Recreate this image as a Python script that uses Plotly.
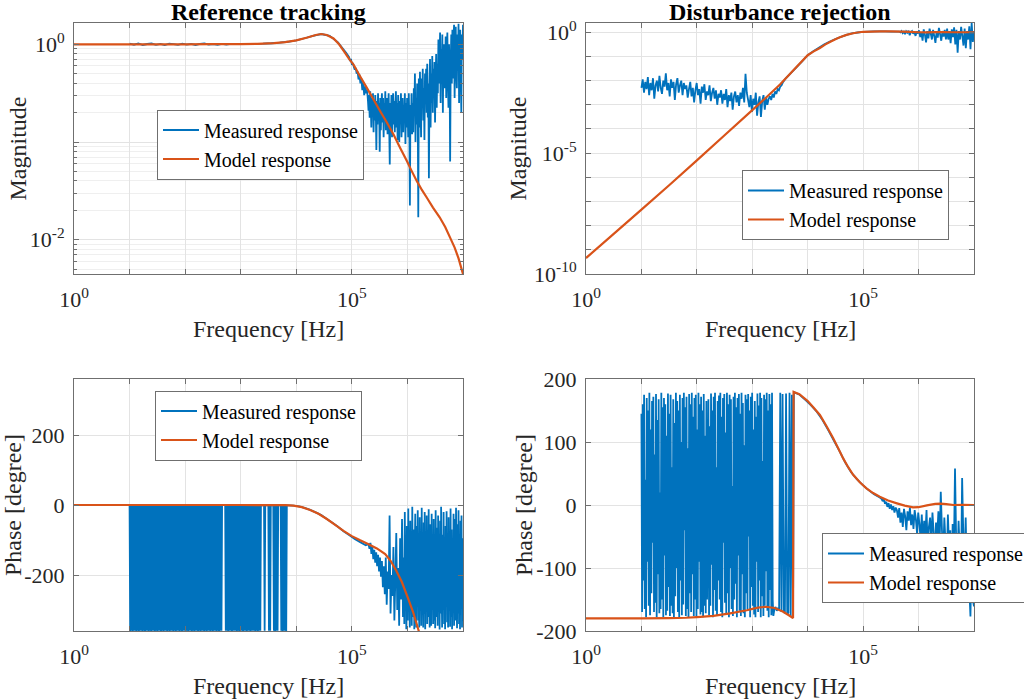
import numpy as np
import plotly.graph_objects as go

# ---------------- data ----------------
# log10 of frequency [Hz]; log10 of magnitude; phase in degrees

# Reference tracking - model
tl_model_logf = [0.0, 1.0, 2.0, 2.5, 3.0, 3.3, 3.6, 3.8, 4.0, 4.2, 4.35, 4.45, 4.55, 4.67, 4.77,
                 4.85, 4.95, 5.03, 5.15, 5.27, 5.4, 5.51, 5.63, 5.75, 5.87, 5.99, 6.08, 6.17, 6.26,
                 6.35, 6.46, 6.58, 6.68, 6.77, 6.85, 6.92, 7.0]
tl_model_logmag = [0.0, 0.0, 0.0, 0.001, 0.002, 0.005, 0.012, 0.022, 0.04, 0.07, 0.095, 0.105, 0.095,
                   0.06, 0.0, -0.065, -0.15, -0.208, -0.33, -0.446, -0.575, -0.685, -0.8, -0.923,
                   -1.06, -1.195, -1.3, -1.4, -1.49, -1.57, -1.67, -1.77, -1.87, -1.98, -2.08, -2.19, -2.35]

# Reference tracking - measured magnitude (frequency stretches)
tl_meas_logf_spans = [(1.0, 2.9), (2.95, 4.9), (4.95, 5.29), (5.3, 7.0)]
tl_meas_logmag_1 = [0.006, -0.004, 0.009, -0.007, 0.003, 0.008, -0.005, 0.004, -0.008, 0.006,
                    0.002, -0.006, 0.007, -0.003, 0.005, -0.007, 0.004, 0.008, -0.004, 0.003,
                    -0.006, 0.005, -0.002, 0.004, 0.001]
tl_meas_logmag_2 = [0.002, 0.003, 0.005, 0.007, 0.011, 0.017, 0.026, 0.04, 0.062, 0.087, 0.105,
                    0.086, 0.02, -0.09]
tl_meas_logmag_3 = [-0.13, -0.17, -0.15, -0.21, -0.19, -0.23, -0.26, -0.24, -0.3,
                    -0.28, -0.36, -0.31, -0.4, -0.35, -0.47, -0.39, -0.52, -0.43, -0.5, -0.46, -0.58]
tl_meas_logmag_4 = [-0.68, -0.52, -0.75, -0.48, -0.62, -0.85, -0.55, -0.7, -0.5, -0.9, -0.6, -0.78,
                    -0.52, -0.68, -1.08, -0.58, -0.82, -0.5, -0.72, -0.6, -1.1, -0.55, -0.88, -0.62, -0.5,
                    -0.8, -0.55, -0.95, -0.6, -0.72, -0.48, -0.88, -0.65, -0.55, -0.92, -0.7, -0.5,
                    -0.85, -1.23, -0.6, -0.78, -0.52, -0.95, -0.66, -0.5, -0.82, -0.58, -0.9, -0.62, -0.48,
                    -0.85, -0.6, -0.98, -0.52, -0.72, -1.0, -0.58, -0.8, -0.5, -0.95, -0.66, -0.55, -0.9,
                    -0.62, -0.75, -0.5, -1.02, -0.6, -0.85, -0.55, -0.7, -0.95, -0.5, -0.8, -1.65, -0.62,
                    -0.78, -0.5, -0.92, -0.6,
                    -0.9, -0.45, -0.7, -0.3, -1.0, -0.55, -0.82, -0.4, -0.65, -1.77, -0.35, -0.85, -0.28,
                    -0.65, -0.95, -0.35, -0.6, -0.25, -0.78, -0.45, -0.98, -0.3, -0.6, -0.25, -0.7,
                    -0.2, -0.75, -0.4, -1.37, -0.45, -0.15, -0.85, -0.3, -0.6, -0.12, -0.7, -0.25, -0.5,
                    -0.18, -0.8, -0.35, -0.1, -0.65, -0.2, -0.5,
                    0.05, -0.4, -0.15, 0.12, -0.6, -0.05, -0.3, 0.1, -0.7, -0.1, 0.0, -0.45, -0.2, 0.08,
                    -0.55, -0.1, 0.12, -0.35, -0.65, 0.0, -0.25, -1.2, -0.2, 0.1, -0.4,
                    0.15, -0.35, 0.05, 0.2, -0.55, -0.1, 0.18, -0.25, -0.45, 0.1, -0.2, 0.21, -0.6, 0.0,
                    0.15, -0.3, -0.7, 0.1, -0.15, 0.2]

# Disturbance rejection - model
tr_model_logf = [0.0, 0.5, 1.0, 1.5, 2.0, 2.5, 3.0, 3.25, 3.5, 3.75, 4.0, 4.1, 4.22, 4.32, 4.4, 4.5,
                 4.58, 4.7, 4.82, 4.9, 5.0, 5.15, 5.3, 5.5, 5.7, 5.85, 6.0, 6.15, 6.3, 6.45, 6.6, 6.8, 7.0]
tr_model_logmag = [-9.34, -8.34, -7.34, -6.33, -5.3, -4.26, -3.22, -2.7, -2.16, -1.55, -0.95, -0.8,
                   -0.65, -0.5, -0.4, -0.29, -0.21, -0.11, -0.04, -0.01, 0.02, 0.03, 0.035, 0.035,
                   0.03, 0.015, 0.0, -0.005, 0.003, 0.004, 0.0, 0.0, 0.0]

# Disturbance rejection - measured magnitude
tr_meas_logf_spans = [(1.0, 3.55), (3.6, 5.6), (5.65, 7.0)]
tr_meas_logmag_1 = [-2.3, -1.95, -2.5, -2.05, -2.35, -1.85, -2.6, -2.1, -2.4, -1.9, -2.75, -2.2, -2.0,
                    -2.45, -1.8, -2.3, -2.55, -2.0, -2.25, -1.7, -2.4, -2.1, -2.65, -1.95, -2.3, -2.05,
                    -2.8, -2.15, -1.9, -2.5, -2.2, -2.0, -2.6, -2.1, -2.35,
                    -2.2, -2.7, -2.35, -2.05, -2.65, -2.3, -2.9, -2.4, -2.1, -2.6, -2.35, -2.95, -2.25,
                    -2.5, -2.15, -2.8, -2.45, -2.6, -2.2, -2.85, -2.5, -2.3, -2.75, -2.4, -3.0, -2.55,
                    -2.7, -2.4, -2.95, -2.55, -2.8, -2.35, -3.1, -2.6, -2.85, -2.5, -3.2, -2.65, -2.45,
                    -2.9, -2.6, -3.05, -2.5, -2.75, -2.3, -2.9, -1.72, -2.5,
                    -2.8, -3.1, -2.6, -3.3, -2.75, -3.0, -2.5, -3.45, -2.9, -2.65, -3.5, -2.85, -2.6,
                    -3.2, -2.7, -3.0, -2.75,
                    -2.65, -2.8, -2.55, -2.7, -2.45, -2.55, -2.35, -2.4, -2.25, -2.2, -2.08]
tr_meas_logmag_2 = [-1.92, -1.68, -1.44, -1.2, -0.95, -0.79, -0.64, -0.5, -0.38, -0.28, -0.19, -0.11,
                    -0.05, -0.01, 0.02, 0.03, 0.035, 0.035, 0.035, 0.03, 0.03]
tr_meas_logmag_3 = [0.03, 0.0, 0.05, -0.04, 0.02, -0.08, 0.04, -0.02, 0.06, -0.12, 0.0, 0.05, -0.06,
                    0.02, -0.15, 0.03, -0.05,
                    0.08, -0.2, 0.0, -0.35, 0.12, -0.1, -0.42, 0.05, -0.25, 0.15, -0.05, -0.3, 0.1,
                    -0.15, -0.44, 0.02, -0.22, 0.18, -0.08, -0.35, 0.05, -0.18, 0.1, -0.3,
                    0.15, -0.3, 0.05, -0.45, 0.12, -0.2, 0.2, -0.5, 0.1, -0.85, 0.05, -0.3, 0.22,
                    -0.15, -0.55, 0.15, -0.66, 0.05, -0.3, 0.25, -0.7, 0.38, -0.4, 0.05]

# Reference tracking - model phase
bl_model_logf = [0.0, 1.0, 2.0, 3.0, 3.5, 3.8, 3.95, 4.1, 4.25, 4.4, 4.55, 4.7, 4.85, 5.0, 5.15,
                 5.3, 5.45, 5.6, 5.7, 5.8, 5.9, 6.0, 6.1, 6.2, 6.25]
bl_model_phase = [0, 0, 0, 0, -0.2, -0.6, -2, -6, -14, -25, -40, -57, -74, -89, -101, -112, -124,
                  -140, -160, -188, -220, -262, -305, -358, -385]

# Reference tracking - measured phase (wraps between ~0 and ~-360 at low frequency)
bl_meas_logf_spans = [(1.0, 3.83), (3.85, 5.25), (5.3, 5.92), (5.935, 7.0)]
bl_meas_phase_1 = [
    -0.3, -359.7, -0.6, -359.4, -0.2, -359.8, -0.5, -359.5, -0.8, -359.3,
    -0.4, -359.7, -0.3, -359.4, -0.6, -359.8, -0.2, -359.5, -0.5, -359.3,
    -0.8, -359.7, -0.4, -359.4, -0.3, -359.8, -0.6, -359.5, -0.2, -359.3,
    -0.3, -359.7, -0.6, -359.4, -0.2, -359.8, -0.5, -359.5, -0.8, -359.3,
    -0.4, -359.7, -0.3, -359.4, -0.6, -359.8, -0.2, -359.5, -0.5, -359.3,
    -0.8, -359.7, -0.4, -359.4, -0.3, -359.8, -0.6, -359.5, -0.2, -359.3,
    -0.3, -359.7, -0.6, -359.4, -0.2, -359.8, -0.5, -359.5, -0.8, -359.3,
    -0.4, -359.7, -0.3, -359.4, -0.6, -359.8, -0.2, -359.5, -0.5, -359.3,
    -0.8, -359.7, -0.4, -359.4, -0.3, -359.8, -0.6, -359.5, -0.2, -359.3,
    -0.3, -359.7, -0.6, -359.4, -0.2, -359.8, -0.5, -359.5, -0.8, -359.3,
    -0.4, -359.7, -0.3, -359.4, -0.6, -359.8, -0.2, -359.5, -0.5, -359.3,
    -0.8, -359.7, -0.4, -359.4, -0.3, -359.8, -0.6, -359.5, -0.2, -359.3,
    -0.3, -359.7, -0.6, -359.4, -0.2, -359.8, -0.5, -359.5, -0.8, -359.3,
    -0.4, -359.7, -0.3, -359.4, -0.6, -359.8, -0.2, -359.5, -0.5, -359.3,
    -0.8, -359.7, -0.4, -359.4, -0.3, -359.8, -0.6, -359.5, -0.2, -359.3,
    -0.5,
    -0.3, -0.6, -0.4, -0.2, -0.5,
    -359.6, -0.4, -359.3, -0.7, -359.8, -0.3, -359.5, -0.5, -359.4, -0.2,
    -359.7, -0.6, -359.5, -0.3, -359.2, -0.8, -359.6, -0.4, -359.8, -0.5,
    -359.4, -0.3, -359.7, -0.6, -359.3, -0.2, -359.5, -0.7, -359.8, -0.4,
    -359.6, -0.5, -359.4, -0.3, -359.7, -0.8, -359.2, -0.4, -359.5, -0.6,
    -359.8, -0.3, -359.6, -0.5, -359.4, -0.7, -359.3, -0.4, -359.7, -0.6,
    -359.5, -0.5, -359.8, -0.4, -359.6, -0.7, -359.4, -0.6,
    -0.8, -0.6, -0.9, -0.7, -0.5,
    -359.5, -0.7,
    -0.9, -0.6, -0.8, -1.0, -0.7,
    -359.6, -0.8, -359.4, -0.9,
    -0.7, -1.0, -0.8, -1.1,
    -359.5, -0.9, -359.7, -1.0, -359.4, -1.1, -359.6, -0.9,
    -1.2, -1.0, -1.3, -1.1,
    -359.5, -1.2, -359.8, -1.0, -359.4, -1.3, -359.6, -1.1, -359.7, -1.2]
bl_meas_phase_2 = [-1, -2, -4, -8, -14, -21, -29, -40, -51, -62, -75, -86, -97, -106, -115]
bl_meas_phase_3 = [-112, -125, -108, -140, -120, -155, -128, -165, -135, -175, -142, -190,
                   -150, -205, -160, -235, -175, -255, -150, -285, -190, -240, -30, -310, -200,
                   -260, -120, -330, -215, -80, -300, -180, -345, -95, -270, -40, -320]
bl_meas_phase_4 = [-150, -340, -20, -290, -110, -355, -60, -230, -330, -10,
                   -260, -180, -350, -45, -300, -90, -345, -5, -210, -320,
                   -70, -355, -130, -25, -280, -350, -60, -240, -15, -330,
                   -160, -350, -35, -300, -100, -345, -8, -270, -200, -350,
                   -50, -310, -20, -355, -140, -290, -30, -340, -80, -320,
                   -12, -260, -350, -55, -180, -345, -25, -300, -120, -340,
                   -40, -330, -90, -352, -15, -250, -320, -65, -345, -30,
                   -280, -110, -356, -45, -310, -5, -230, -350, -85, -300,
                   -20, -340, -150, -355, -60, -270, -18, -335, -200, -350,
                   -35, -290, -100, -348, -10, -320, -70, -355, -140, -300,
                   -25, -345, -190, -40, -330, -8, -260, -352, -55, -310,
                   -15, -340, -120, -355, -45, -280, -30, -350, -95, -330]

# Disturbance rejection - model phase
br_model_logf = [0.0, 1.0, 1.5, 1.8, 2.0, 2.3, 2.6, 2.9, 3.1, 3.25, 3.4, 3.55, 3.66, 3.735, 3.745,
                 3.85, 4.0, 4.1, 4.22, 4.34, 4.46, 4.55, 4.64, 4.73, 4.82, 4.94, 5.06, 5.18, 5.3,
                 5.45, 5.61, 5.75, 5.9, 6.0, 6.15, 6.3, 6.4, 6.5, 6.63, 6.8, 7.0]
br_model_phase = [-180, -180, -179.5, -179, -178, -176, -172, -167, -163, -161.5, -163.5, -169,
                  -175, -179.5, 179.5, 176, 165, 155, 143, 125, 106, 90, 74, 60, 48, 36, 26.5, 19,
                  13, 7, 2.6, -1, -3.7, -3.5, -0.5, 1.8, 2.2, 1.5, 0, 0.3, 0]

# Disturbance rejection - measured phase
br_meas_logf_spans = [(1.0, 3.38), (3.40, 3.735), (3.75, 5.3), (5.33, 7.0)]
br_meas_phase_1 = [145, -170, 160, -120, 175, -165, 40, -178, 170, -90,
                   150, -160, 178, -175, 120, -140, 165, -60, 172, -170,
                   80, -155, 176, -178, 135, -110, 168, -172, 20, -165,
                   178, -150, 155, -178, 170, -80, 160, -175, 110, -168,
                   177, -130, 145, -176, 175, -160, 60, -172, 168, -178,
                   130, -145, 178, -100, 165, -170, 150, -178, 175, -120,
                   100, -175, 170, -158, 178, -40, 155, -176, 172, -165,
                   90, -178, 176, -140, 160, -170, 178, -110, 140, -176,
                   170, -150, 175, -178, 120, -165, 178, -90, 160, -174,
                   172, -170, 150, -178, 176, -160, 110, -172, 165, -150,
                   -20, 168, -175, 125, -160, 177, -95, 150, -178, 172,
                   -135, 178, -168, 60, -176, 165, -120, 174, -150, 178,
                   -170, 140, -178, 170, -60, 176, -155, 115, -174, 178,
                   -140, 160, -178, 175, -100, 168, -165, 30, -176, 172,
                   -150, 178, -125, 155, -178, 170, -80, 176, -168, 145,
                   -176, 178, -110, 162, -172, 95, -178, 175, -140, 168,
                   -165, 176, -50, 150, -178, 172, -130, 178, -160, 120,
                   -174, 165, -178, 140, -90, 177, -170, 158, -120, 178,
                   -178, 170, -145, 70, -176, 175, -160, 168, -105, 178,
                   -168, 150, -178, 176, -135, 160, -175, 178, -150, -176]
br_meas_phase_2 = [-165, -162, -168, -163, -166, 178, -170, 176, -168, -172, 177, -174, -171,
                   178, -176, 175, -179]
br_meas_phase_3 = [179, 175, 167, 158, 148, 135, 119, 102, 85, 67, 52, 41, 32, 24, 17, 12]
br_meas_phase_4 = [10, 6, 9, 2, 5, -3, 3, -6, 1, -8, -2, -12, -4,
                   -8, -20, -5, -28, -12, -35, -6, -18, -40, -10, -25, -4, -32, -15, -38, -8, -22, -45, -12,
                   -30, -55, -15, -62, -25, -48, -8, -70, -35, -20, -58, -12, -45, -75, -28, -50, -10, -65, 21,
                   -40, -85, -20, -60, -95, -15, -70, -40, -146, -30, -80, 58, -60, -100, -25, -75, -120,
                   43, -50, -90, -20, -110, -60, -130, -177, -70, -150, -161]

# ---------------- styling ----------------
BLUE = '#0072BD'
ORANGE = '#D95319'
FONT = 'Liberation Serif'
AXC = '#6f6f6f'
GRID = '#e3e3e3'
MINOR = '#efefef'
TXT = '#262626'
W, H = 1024, 700


def spans_to_xy(spans, parts):
    xs, ys = [], []
    for (a, b), vals in zip(spans, parts):
        xs.append(np.logspace(a, b, len(vals)))
        ys.append(np.asarray(vals, dtype=float))
    return np.concatenate(xs), np.concatenate(ys)


tl_f, tl_lm = spans_to_xy(tl_meas_logf_spans, [tl_meas_logmag_1, tl_meas_logmag_2, tl_meas_logmag_3,
                                               tl_meas_logmag_4])
tr_f, tr_lm = spans_to_xy(tr_meas_logf_spans, [tr_meas_logmag_1, tr_meas_logmag_2, tr_meas_logmag_3])
bl_f, bl_ph = spans_to_xy(bl_meas_logf_spans, [bl_meas_phase_1, bl_meas_phase_2, bl_meas_phase_3,
                                               bl_meas_phase_4])
br_f, br_ph = spans_to_xy(br_meas_logf_spans, [br_meas_phase_1, br_meas_phase_2, br_meas_phase_3,
                                               br_meas_phase_4])

panels = [
    ('', 'legend', tl_f, 10 ** tl_lm, 10 ** np.array(tl_model_logf), 10 ** np.array(tl_model_logmag)),
    ('2', 'legend2', tr_f, 10 ** tr_lm, 10 ** np.array(tr_model_logf), 10 ** np.array(tr_model_logmag)),
    ('3', 'legend3', bl_f, bl_ph, 10 ** np.array(bl_model_logf), np.array(bl_model_phase)),
    ('4', 'legend4', br_f, br_ph, 10 ** np.array(br_model_logf), np.array(br_model_phase)),
]

fig = go.Figure()
for suf, leg, mx, my, sx, sy in panels:
    fig.add_trace(go.Scatter(x=mx, y=my, mode='lines', name='Measured response',
                             line=dict(color=BLUE, width=1.8, simplify=False),
                             xaxis='x' + suf, yaxis='y' + suf, legend=leg, hoverinfo='skip'))
    fig.add_trace(go.Scatter(x=sx, y=sy, mode='lines', name='Model response',
                             line=dict(color=ORANGE, width=2.2, simplify=False),
                             xaxis='x' + suf, yaxis='y' + suf, legend=leg, hoverinfo='skip'))


def px_x(p):
    return p / W


def px_y(p):
    return 1 - p / H


dom_x_left = [px_x(74), px_x(463)]
dom_x_right = [px_x(586), px_x(974)]
dom_y_top = [px_y(274), px_y(23)]
dom_y_bot = [px_y(631), px_y(379)]

tickfont = dict(family=FONT, size=22, color=TXT)
common = dict(showline=True, linecolor=AXC, linewidth=1, mirror='ticks', ticks='inside', ticklen=5,
              tickcolor=AXC, showgrid=True, gridcolor=GRID, gridwidth=1, zeroline=False,
              tickfont=tickfont)

xdecades = [10 ** k for k in range(8)]
xtext = ['10<sup>0</sup>', '', '', '', '', '10<sup>5</sup>', '', '']


def xaxis(domain, anchor):
    return dict(domain=domain, anchor=anchor, type='log', range=[0, 7], tickvals=xdecades,
                ticktext=xtext, ticklabelstandoff=6, **common)


tl_minor = [k * 10.0 ** e for e in (-3, -2, -1) for k in range(2, 10)]
layout = dict(
    width=W, height=H, autosize=False,
    margin=dict(l=0, r=0, t=0, b=0, autoexpand=False),
    paper_bgcolor='white', plot_bgcolor='white',
    font=dict(family=FONT, color=TXT),
    xaxis=xaxis(dom_x_left, 'y'),
    xaxis2=xaxis(dom_x_right, 'y2'),
    xaxis3=xaxis(dom_x_left, 'y3'),
    xaxis4=xaxis(dom_x_right, 'y4'),
    yaxis=dict(domain=dom_y_top, anchor='x', type='log', range=[-2.35, 0.218],
               tickvals=[0.01, 0.1, 1], ticktext=['10<sup>-2</sup>', '', '10<sup>0</sup>'],
               minor=dict(tickvals=tl_minor, ticks='inside', ticklen=3, tickcolor=AXC,
                          showgrid=True, gridcolor=MINOR),
               ticklabelstandoff=4, **common),
    yaxis2=dict(domain=dom_y_top, anchor='x2', type='log', range=[-10, 0.383],
                tickvals=[10.0 ** k for k in range(-10, 1)],
                ticktext=['10<sup>-10</sup>', '', '', '', '', '10<sup>-5</sup>', '', '', '', '',
                          '10<sup>0</sup>'],
                ticklabelstandoff=4, **common),
    yaxis3=dict(domain=dom_y_bot, anchor='x3', range=[-360, 360], tickvals=[-200, 0, 200],
                ticktext=['-200', '0', '200'], ticklabelstandoff=4, **common),
    yaxis4=dict(domain=dom_y_bot, anchor='x4', range=[-200, 200],
                tickvals=[-200, -100, 0, 100, 200], ticktext=['-200', '-100', '0', '100', '200'],
                ticklabelstandoff=4, **common),
    showlegend=True,
)

legend_common = dict(xanchor='left', yanchor='middle', bgcolor='white', bordercolor=AXC, borderwidth=1,
                     font=dict(family=FONT, size=20, color='black'), itemwidth=36, tracegroupgap=0)
layout['legend'] = dict(x=px_x(157), y=px_y(144.5), **legend_common)
layout['legend2'] = dict(x=px_x(742), y=px_y(205), **legend_common)
layout['legend3'] = dict(x=px_x(155), y=px_y(425.5), **legend_common)
layout['legend4'] = dict(x=px_x(822), y=px_y(568), **legend_common)

fig.update_layout(**layout)

ann = []
title_font = dict(family=FONT, size=24, color='black')
lab_font = dict(family=FONT, size=24, color=TXT)
cx_left = px_x((74 + 463) / 2)
cx_right = px_x((586 + 974) / 2)
ann.append(dict(text='<b>Reference tracking</b>', x=cx_left, y=px_y(12), xref='paper', yref='paper',
                showarrow=False, font=title_font, xanchor='center', yanchor='middle'))
ann.append(dict(text='<b>Disturbance rejection</b>', x=cx_right, y=px_y(12), xref='paper',
                yref='paper', showarrow=False, font=title_font, xanchor='center', yanchor='middle'))
for cx, cy in [(cx_left, 329), (cx_right, 329), (cx_left, 686), (cx_right, 686)]:
    ann.append(dict(text='Frequency [Hz]', x=cx, y=px_y(cy), xref='paper', yref='paper',
                    showarrow=False, font=lab_font, xanchor='center', yanchor='middle'))
for txt, cx, cy in [('Magnitude', 17, 148.5), ('Magnitude', 517, 148.5),
                    ('Phase [degree]', 13, 505), ('Phase [degree]', 524, 505)]:
    ann.append(dict(text=txt, x=px_x(cx), y=px_y(cy), xref='paper', yref='paper', showarrow=False,
                    font=lab_font, textangle=-90, xanchor='center', yanchor='middle'))
fig.update_layout(annotations=ann)

fig.write_html("out.html", config={'displayModeBar': False},
               post_script="document.body.style.margin='0';document.body.style.overflow='hidden';")
